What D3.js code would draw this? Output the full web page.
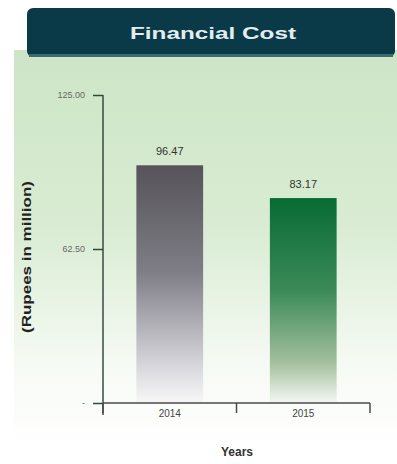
<!DOCTYPE html>
<html>
<head>
<meta charset="utf-8">
<script src="https://cdn.jsdelivr.net/npm/d3@7"></script>
<style>
  html, body { margin: 0; padding: 0; background: #fff; }
  text { font-family: "Liberation Sans", Arial, sans-serif; }
</style>
</head>
<body>
<div id="chart"></div>
<script>
const years = ['2014', '2015'];
const costs = [96.47, 83.17];
const costLabels = ['96.47', '83.17'];
const yTicks = [0, 62.5, 125];
const yTickLabels = ['-', '62.50', '125.00'];

document.addEventListener("DOMContentLoaded", function () {
  const W = 397, H = 464;
  const svg = d3.select('#chart').append('svg')
    .attr('width', W)
    .attr('height', H);

  const left = 103, right = 370, top = 95, bottom = 403;

  const defs = svg.append('defs');

  // background gradient, light green fading to white
  const bg = defs.append('linearGradient').attr('id', 'bg')
    .attr('x1', 0).attr('y1', 0).attr('x2', 0).attr('y2', 1);
  bg.append('stop').attr('offset', '0%').attr('stop-color', '#cde5c6');
  bg.append('stop').attr('offset', '45%').attr('stop-color', '#d9ecd3');
  bg.append('stop').attr('offset', '80%').attr('stop-color', '#f6faf4');
  bg.append('stop').attr('offset', '100%').attr('stop-color', '#ffffff');

  const gGrey = defs.append('linearGradient').attr('id', 'grey')
    .attr('x1', 0).attr('y1', 0).attr('x2', 0).attr('y2', 1);
  gGrey.append('stop').attr('offset', '0%').attr('stop-color', '#56545a');
  gGrey.append('stop').attr('offset', '45%').attr('stop-color', '#7f7d85');
  gGrey.append('stop').attr('offset', '82%').attr('stop-color', '#d3d1d8');
  gGrey.append('stop').attr('offset', '100%').attr('stop-color', '#f7f7f7');

  const gGreen = defs.append('linearGradient').attr('id', 'green')
    .attr('x1', 0).attr('y1', 0).attr('x2', 0).attr('y2', 1);
  gGreen.append('stop').attr('offset', '0%').attr('stop-color', '#086b34');
  gGreen.append('stop').attr('offset', '45%').attr('stop-color', '#3b8a58');
  gGreen.append('stop').attr('offset', '80%').attr('stop-color', '#a3bf9d');
  gGreen.append('stop').attr('offset', '100%').attr('stop-color', '#f4f7f2');

  svg.append('rect')
    .attr('x', 14).attr('y', 50)
    .attr('width', W - 14).attr('height', 395)
    .attr('fill', 'url(#bg)');

  // title banner
  svg.append('rect')
    .attr('x', 27).attr('y', 8)
    .attr('width', 368).attr('height', 49)
    .attr('rx', 6)
    .attr('fill', '#0a3a47');
  svg.append('rect')
    .attr('x', 29).attr('y', 54)
    .attr('width', 364).attr('height', 3)
    .attr('fill', '#3c6b6e');
  svg.append('text')
    .attr('x', 213).attr('y', 39)
    .attr('text-anchor', 'middle')
    .attr('font-size', '17px')
    .attr('font-weight', 'bold')
    .attr('textLength', 166)
    .attr('lengthAdjust', 'spacingAndGlyphs')
    .attr('fill', '#e3edf0')
    .text('Financial Cost');

  const x = d3.scaleBand().domain(years).range([left, right]).paddingInner(0.5).paddingOuter(0.25);
  const y = d3.scaleLinear().domain([0, 125]).range([bottom, top]);

  // bars
  svg.selectAll('.bar')
    .data(costs)
    .enter().append('rect')
    .attr('x', (d, i) => x(years[i]))
    .attr('y', d => y(d))
    .attr('width', x.bandwidth())
    .attr('height', d => bottom - y(d))
    .attr('fill', (d, i) => i === 0 ? 'url(#grey)' : 'url(#green)');

  svg.selectAll('.val')
    .data(costs)
    .enter().append('text')
    .attr('x', (d, i) => x(years[i]) + x.bandwidth() / 2)
    .attr('y', d => y(d) - 10)
    .attr('text-anchor', 'middle')
    .attr('font-size', '11px')
    .attr('fill', '#333')
    .text((d, i) => costLabels[i]);

  // y axis
  const yAxis = d3.axisLeft(y)
    .tickValues(yTicks)
    .tickSize(10)
    .tickPadding(8)
    .tickFormat((d, i) => yTickLabels[i]);
  const ya = svg.append('g')
    .attr('transform', `translate(${left},0)`)
    .call(yAxis);
  ya.select('.domain').remove();
  ya.selectAll('line').attr('stroke', '#2f4a3a').attr('stroke-width', 1.5);
  ya.selectAll('text').attr('font-size', '9px').attr('fill', '#666')
    .attr('font-family', '"Liberation Sans", Arial, sans-serif');
  svg.append('line')
    .attr('x1', left).attr('x2', left)
    .attr('y1', top).attr('y2', bottom + 12)
    .attr('stroke', '#3a4a40').attr('stroke-width', 1.5);

  // x axis
  svg.append('line')
    .attr('x1', left).attr('x2', right)
    .attr('y1', bottom).attr('y2', bottom)
    .attr('stroke', '#4a4a4a').attr('stroke-width', 1.5);
  const edges = [left, (left + right) / 2, right];
  svg.selectAll('.xt')
    .data(edges)
    .enter().append('line')
    .attr('x1', d => d).attr('x2', d => d)
    .attr('y1', bottom).attr('y2', bottom + 10)
    .attr('stroke', '#4a4a4a').attr('stroke-width', 1.5);
  svg.selectAll('.xl')
    .data(years)
    .enter().append('text')
    .attr('x', d => x(d) + x.bandwidth() / 2)
    .attr('y', bottom + 14)
    .attr('text-anchor', 'middle')
    .attr('font-size', '10px')
    .attr('fill', '#444')
    .text(d => d);

  svg.append('text')
    .attr('x', 237).attr('y', 456)
    .attr('text-anchor', 'middle')
    .attr('font-size', '12px')
    .attr('font-weight', 'bold')
    .attr('fill', '#333')
    .text('Years');

  svg.append('text')
    .attr('transform', 'translate(31,257) rotate(-90)')
    .attr('text-anchor', 'middle')
    .attr('font-size', '13px')
    .attr('font-weight', 'bold')
    .attr('textLength', 152)
    .attr('lengthAdjust', 'spacingAndGlyphs')
    .attr('fill', '#222')
    .text('(Rupees in million)');
});
</script>
</body>
</html>
